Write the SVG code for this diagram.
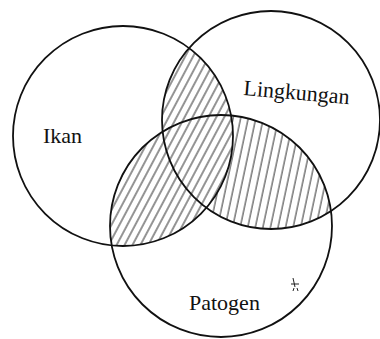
<svg xmlns="http://www.w3.org/2000/svg" width="380" height="339" viewBox="0 0 380 339">
<style>
.c{fill:none;stroke:#111;stroke-width:1.8}
.t{font-family:"Liberation Serif","Times New Roman",serif;font-size:22px;fill:#111}
.h{stroke:#111;stroke-width:0.9}
</style>
<defs>
<pattern id="hA" patternUnits="userSpaceOnUse" width="7" height="20" patternTransform="rotate(28)">
<line class="h" x1="1" y1="0" x2="1" y2="20"/>
</pattern>
<pattern id="hB" patternUnits="userSpaceOnUse" width="7.4" height="20" patternTransform="rotate(12)">
<line class="h" x1="1" y1="0" x2="1" y2="20"/>
</pattern>
<clipPath id="cI"><circle cx="123" cy="136" r="110"/></clipPath>
<clipPath id="cL"><circle cx="271" cy="120" r="109"/></clipPath>
<clipPath id="cP"><circle cx="221" cy="226" r="111"/></clipPath>
<clipPath id="cLP"><circle cx="271" cy="120" r="109"/><circle cx="221" cy="226" r="111"/></clipPath>
<mask id="mNotI">
<rect width="380" height="339" fill="#fff"/>
<circle cx="123" cy="136" r="110" fill="#000"/>
</mask>
</defs>
<g id="hatching">
<g clip-path="url(#cI)">
<rect clip-path="url(#cLP)" width="380" height="339" fill="url(#hA)"/>
</g>
<g clip-path="url(#cL)">
<g mask="url(#mNotI)">
<rect clip-path="url(#cP)" width="380" height="339" fill="url(#hB)"/>
</g>
</g>
</g>
<g id="ikan">
<circle class="c" cx="123" cy="136" r="110"/>
<text class="t" x="43" y="143">Ikan</text>
</g>
<g id="lingkungan">
<circle class="c" cx="271" cy="120" r="109"/>
<text class="t" x="243" y="95" transform="rotate(5 243 95)">Lingkungan</text>
</g>
<g id="patogen">
<circle class="c" cx="221" cy="226" r="111"/>
<text class="t" x="189" y="310">Patogen</text>
</g>
<g id="connectors"/>
<path d="M293 278 L295 287 M291 284 L299 284 M294 288 L293 291 M297 288 L298 291" stroke="#222" stroke-width="1" fill="none"/>
</svg>
